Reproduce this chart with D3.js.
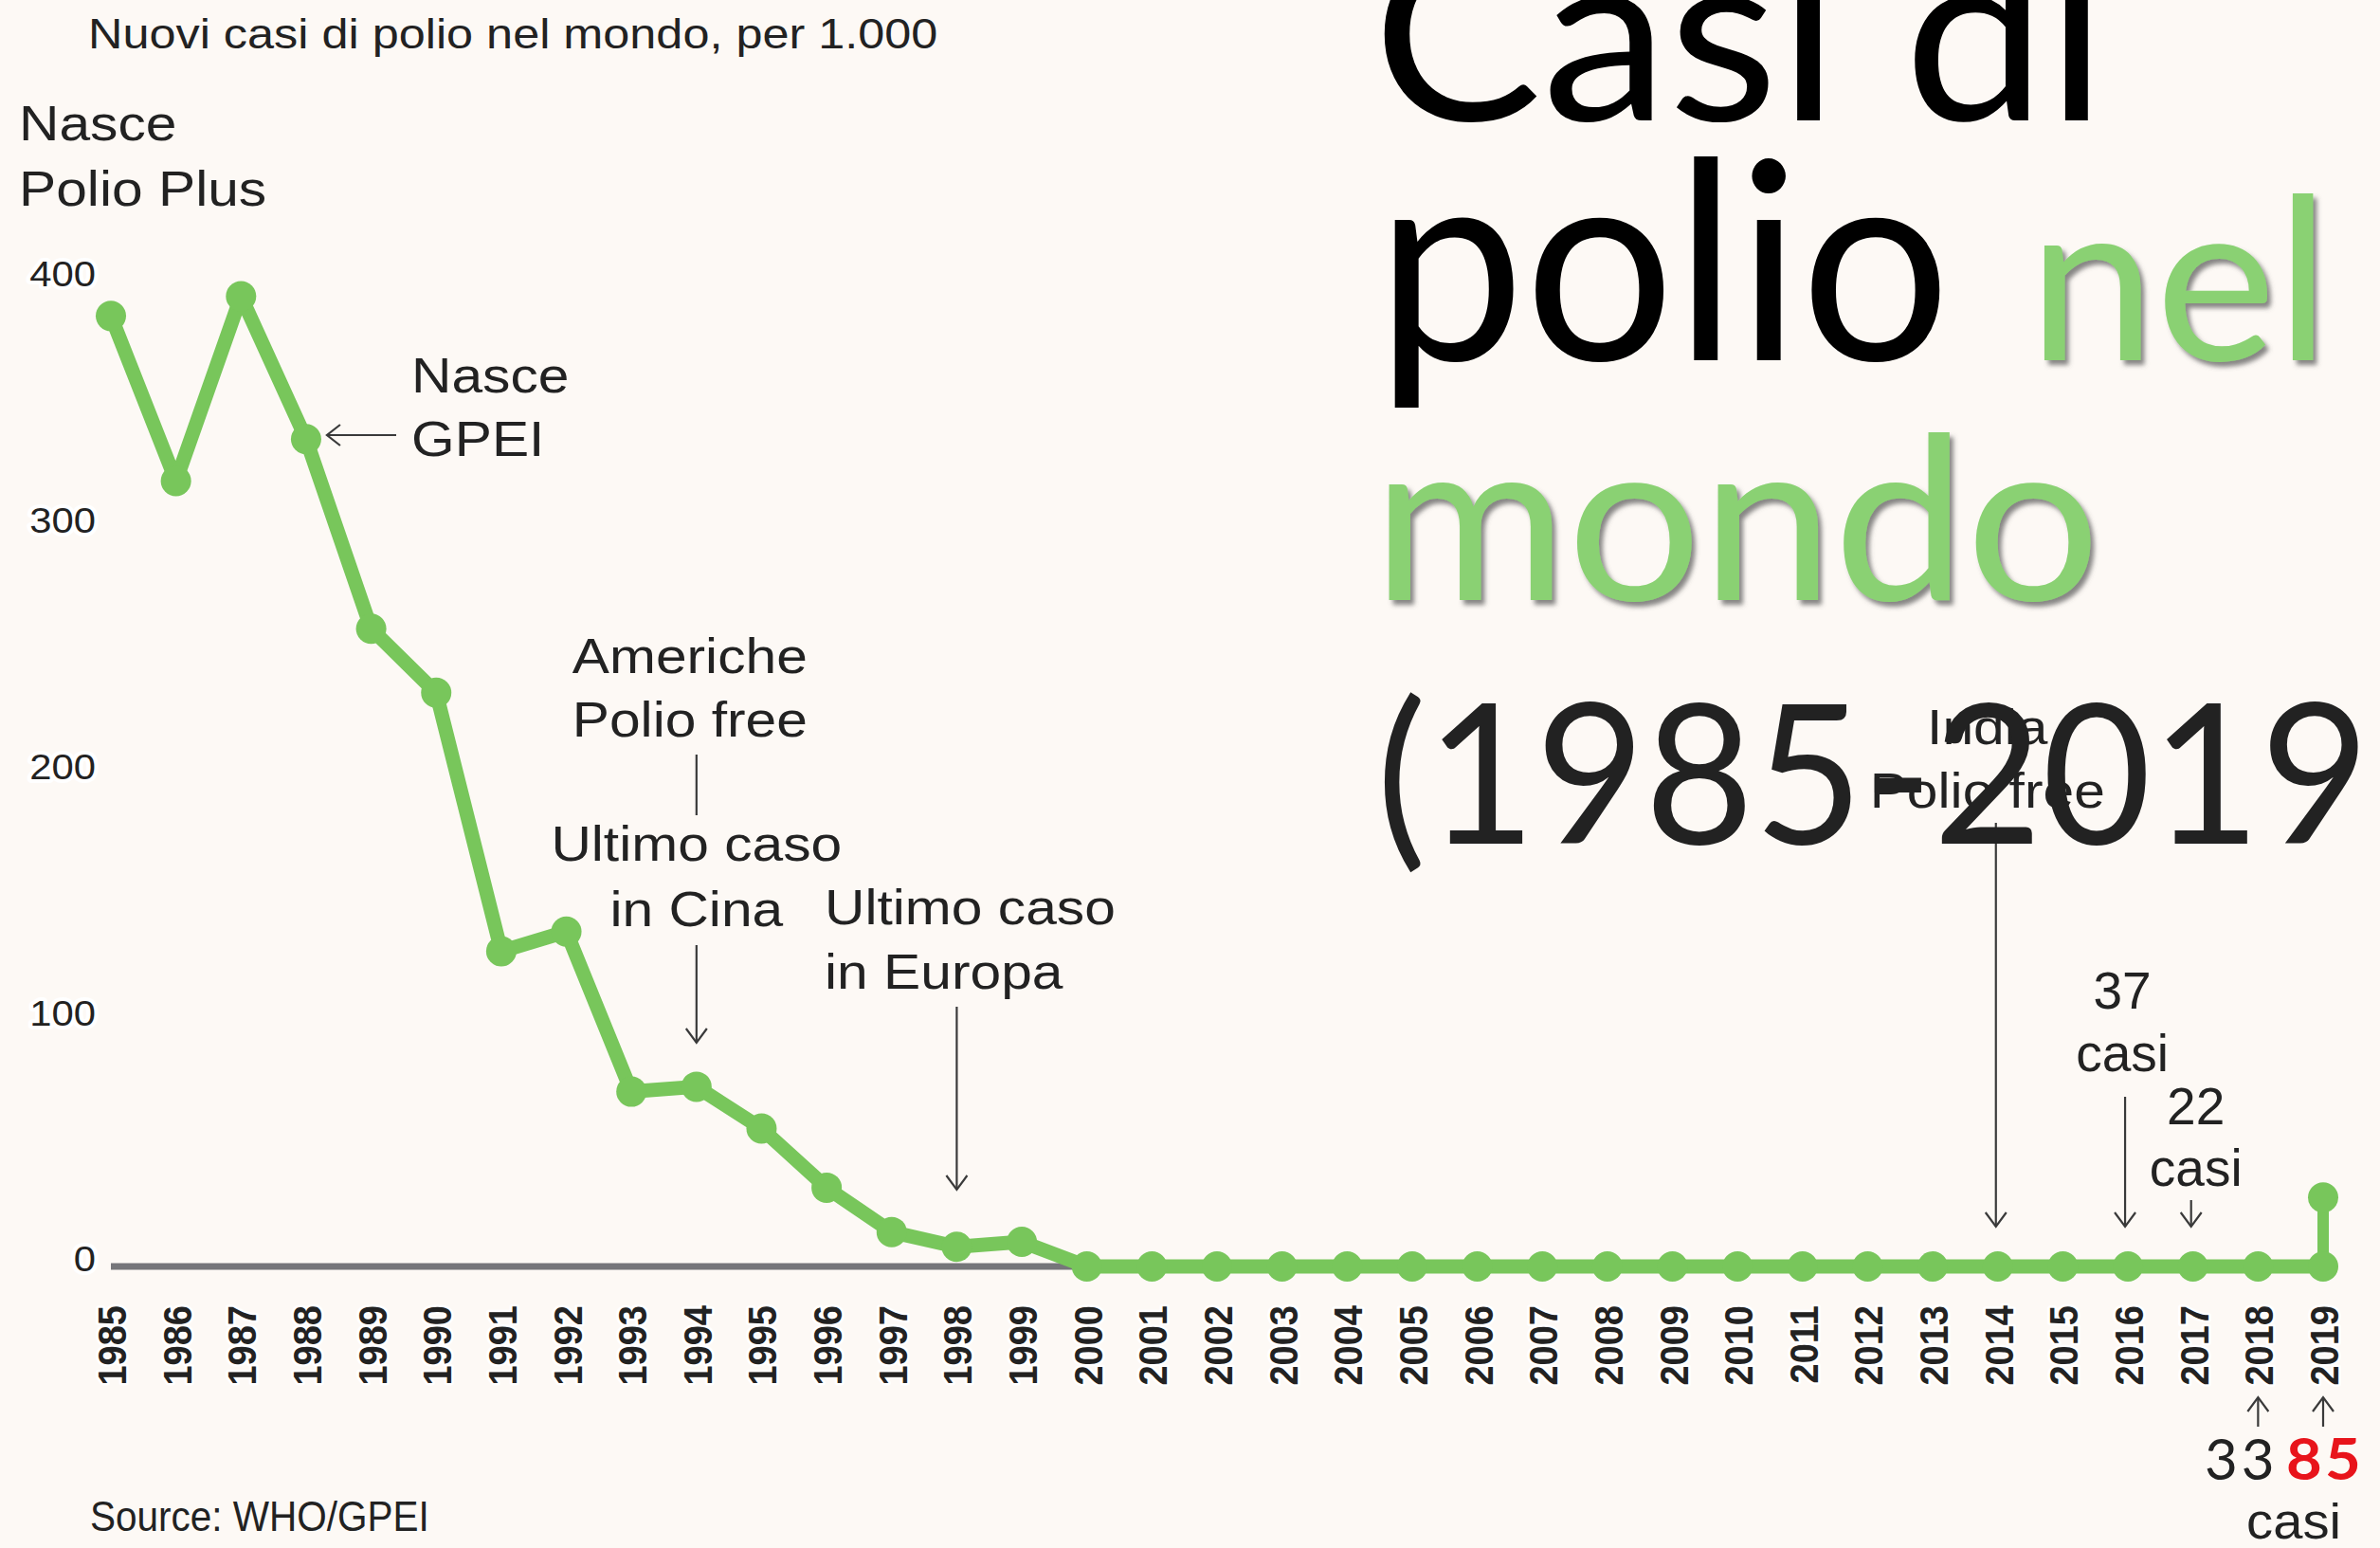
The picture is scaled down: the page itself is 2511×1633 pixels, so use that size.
<!DOCTYPE html>
<html>
<head>
<meta charset="utf-8">
<script src="https://cdn.jsdelivr.net/npm/d3@7/dist/d3.min.js"></script>
<style>
  html, body { margin: 0; padding: 0; background: #fdf9f5; }
  svg { display: block; }
</style>
</head>
<body>
<div id="chart"></div>
<script>
// data (thousands of new cases per year)
var years = [1985, 1986, 1987, 1988, 1989, 1990, 1991, 1992, 1993, 1994,
             1995, 1996, 1997, 1998, 1999, 2000, 2001, 2002, 2003, 2004,
             2005, 2006, 2007, 2008, 2009, 2010, 2011, 2012, 2013, 2014,
             2015, 2016, 2017, 2018, 2019];
var cases = [386, 319, 394, 336, 259, 233, 128, 136, 71, 73,
             56, 32, 14, 8, 10, 0, 0, 0, 0, 0,
             0, 0, 0, 0, 0, 0, 0, 0, 0, 0,
             0, 0, 0, 0, 0];
// the 2019 jump drawn as an extra vertical step
var spikeYears = [2019, 2019];
var spikeCases = [0, 28];
var yTicks = [0, 100, 200, 300, 400];

var subtitle = "Nuovi casi di polio nel mondo, per 1.000";
var source = "Source: WHO/GPEI";
var notePolioPlus = ["Nasce", "Polio Plus"];
var noteGpei = ["Nasce", "GPEI"];
var noteAmeriche = ["Americhe", "Polio free"];
var noteCina = ["Ultimo caso", "in Cina"];
var noteEuropa = ["Ultimo caso", "in Europa"];
var noteIndia = ["India", "Polio free"];
var note2016 = ["37", "casi"];
var note2017 = ["22", "casi"];
var note2018 = "33";
var note2019 = "85";

var svgWidth = 2511;
var svgHeight = 1633;
var green = "#78c65b";
var ink = "#222";
var arrowInk = "#3a3a3a";
var sx = 1.13; // the chart picture is a little stretched sideways

var svg = d3.select("#chart")
  .append("svg")
  .attr("width", svgWidth)
  .attr("height", svgHeight)
  .attr("viewBox", `0 0 ${svgWidth} ${svgHeight}`);

svg.append("rect")
  .attr("width", svgWidth)
  .attr("height", svgHeight)
  .attr("fill", "#fdf9f5");

var defs = svg.append("defs");
defs.append("filter")
  .attr("id", "shadow")
  .attr("x", "-10%").attr("y", "-10%")
  .attr("width", "130%").attr("height", "130%")
  .append("feDropShadow")
  .attr("dx", 4).attr("dy", 5)
  .attr("stdDeviation", 2.5)
  .attr("flood-color", "#555")
  .attr("flood-opacity", 0.7);

// scales
var xScale = d3.scaleLinear().domain([1985, 2019]).range([117, 2451]);
var yScale = d3.scaleLinear().domain([0, 400]).range([1336, 297]);

var chart = svg.append("g");

// grey base line
chart.append("line")
  .attr("x1", xScale(1985))
  .attr("x2", xScale(2019))
  .attr("y1", yScale(0))
  .attr("y2", yScale(0))
  .attr("stroke", "#76767a")
  .attr("stroke-width", 7);

// green series
var lineGen = d3.line()
  .x(function(d) { return xScale(d[0]); })
  .y(function(d) { return yScale(d[1]); });

var points = years.map(function(yr, i) { return [yr, cases[i]]; });
var spike = spikeYears.map(function(yr, i) { return [yr, spikeCases[i]]; });

chart.append("path")
  .attr("d", lineGen(points))
  .attr("fill", "none")
  .attr("stroke", green)
  .attr("stroke-width", 15)
  .attr("stroke-linejoin", "round")
  .attr("stroke-linecap", "round");

chart.append("path")
  .attr("d", lineGen(spike))
  .attr("fill", "none")
  .attr("stroke", green)
  .attr("stroke-width", 12)
  .attr("stroke-linecap", "round");

chart.selectAll("circle.pt")
  .data(points.concat(spike.slice(1)))
  .enter()
  .append("circle")
  .attr("class", "pt")
  .attr("cx", function(d) { return xScale(d[0]); })
  .attr("cy", function(d) { return yScale(d[1]); })
  .attr("r", 16)
  .attr("fill", green);

// y axis labels
var leftAxis = d3.axisLeft(yScale).tickValues(yTicks).tickSize(0).tickPadding(0);
var yAxisG = chart.append("g")
  .attr("transform", "translate(101,-7)")
  .call(leftAxis);
yAxisG.select(".domain").remove();
yAxisG.selectAll("text")
  .attr("x", 0)
  .attr("transform", `scale(${sx},1)`)
  .attr("font-family", "'Liberation Sans', Arial, sans-serif")
  .attr("font-size", 37)
  .attr("fill", ink)
  .attr("stroke", "#fff")
  .attr("stroke-width", 8)
  .attr("stroke-linejoin", "round")
  .style("paint-order", "stroke");

// year labels
var bottomAxis = d3.axisBottom(xScale).tickValues(years).tickFormat(d3.format("d")).tickSize(0);
var xAxisG = chart.append("g")
  .attr("transform", "translate(0,1377)")
  .call(bottomAxis);
xAxisG.select(".domain").remove();
xAxisG.selectAll("text")
  .attr("x", 0)
  .attr("y", 0)
  .attr("dy", "0.36em")
  .attr("text-anchor", "end")
  .attr("transform", `scale(${sx},1) rotate(-90)`)
  .attr("font-family", "'Liberation Sans', Arial, sans-serif")
  .attr("font-weight", "bold")
  .attr("font-size", 38)
  .attr("fill", ink)
  .attr("stroke", "#fff")
  .attr("stroke-width", 5)
  .attr("stroke-linejoin", "round")
  .style("paint-order", "stroke");

// text helper
function label(lines, x, y, opts) {
  opts = opts || {};
  var size = opts.size || 52;
  var step = opts.step || 67;
  var t = chart.append("text")
    .attr("transform", `translate(${x},${y}) scale(${opts.sx || sx},1)`)
    .attr("text-anchor", opts.anchor || "start")
    .attr("font-family", opts.family || "'Liberation Sans', Arial, sans-serif")
    .attr("font-size", size)
    .attr("font-weight", opts.weight || "normal")
    .attr("fill", opts.fill || ink);
  lines.forEach(function(s, i) {
    t.append("tspan").attr("x", 0).attr("y", i * step).text(s);
  });
  return t;
}

function arrowV(x, y1, y2, head) {
  chart.append("line")
    .attr("x1", x).attr("x2", x)
    .attr("y1", y1).attr("y2", y2)
    .attr("stroke", arrowInk).attr("stroke-width", 2.2);
  if (head) {
    var dir = y2 > y1 ? -1 : 1;
    chart.append("path")
      .attr("d", `M${x - 11},${y2 + dir * 15} L${x},${y2} L${x + 11},${y2 + dir * 15}`)
      .attr("fill", "none")
      .attr("stroke", arrowInk).attr("stroke-width", 2.2);
  }
}

// texts at the top left
label([subtitle], 93, 51, { size: 45, sx: 1.12 });
label(notePolioPlus, 20, 148, { size: 52, step: 69 });

// GPEI
label(noteGpei, 434, 414, { size: 52 });
chart.append("line")
  .attr("x1", 418).attr("x2", xScale(1988) + 22)
  .attr("y1", 459).attr("y2", 459)
  .attr("stroke", arrowInk).attr("stroke-width", 2.2);
chart.append("path")
  .attr("d", `M${xScale(1988) + 36},${448} L${xScale(1988) + 22},459 L${xScale(1988) + 36},${470}`)
  .attr("fill", "none").attr("stroke", arrowInk).attr("stroke-width", 2.2);

// Americhe / Cina
label(noteAmeriche, xScale(1994) - 7, 710, { anchor: "middle" });
arrowV(xScale(1994), 796, 860, false);
label(noteCina.slice(0, 1), xScale(1994), 908, { anchor: "middle" });
label(noteCina.slice(1), xScale(1994), 977, { anchor: "middle" });
arrowV(xScale(1994), 997, 1100, true);

// Europa
label(noteEuropa, 870, 975, { step: 68 });
arrowV(xScale(1998), 1062, 1255, true);

// India
label(noteIndia, xScale(2014) - 11, 785, { anchor: "middle" });
arrowV(xScale(2014) - 2, 868, 1294, true);

// 2016 / 2017
label(note2016, xScale(2016) - 6, 1064, { anchor: "middle", size: 55, sx: 1, step: 66 });
arrowV(xScale(2016) - 3, 1157, 1294, true);
label(note2017, xScale(2017) + 3, 1186, { anchor: "middle", size: 55, sx: 1, step: 65 });
arrowV(xScale(2017) - 2, 1266, 1294, true);

// 2018 / 2019 below the axis
arrowV(xScale(2018), 1505, 1474, true);
arrowV(xScale(2019), 1505, 1474, true);
label([note2018], 2326, 1561, { size: 60, sx: 1, family: "Lato, sans-serif", fill: "#222" })
  .attr("letter-spacing", 4);
label([note2019], 2412, 1561, { size: 62, sx: 1.05, family: "Lato, sans-serif", weight: "bold", fill: "#e8141b" })
  .attr("letter-spacing", 3);
label(["casi"], 2420, 1623, { anchor: "middle", size: 52, sx: 1.08 });

// source
label([source], 95, 1615, { size: 45, sx: 0.9 });

// big title on the right, drawn on top of the chart
var title = svg.append("g").attr("font-family", "Lato, 'Open Sans', sans-serif");
function titleWord(s, x, y, size, len, fill, shadow) {
  var t = title.append("text")
    .attr("x", x).attr("y", y)
    .attr("font-size", size)
    .attr("fill", fill)
    .attr("textLength", len)
    .attr("lengthAdjust", "spacingAndGlyphs")
    .text(s);
  if (shadow) t.attr("filter", "url(#shadow)");
}
titleWord("Casi di", 1448, 127, 255, 775, "#000", false);
titleWord("polio", 1452, 380, 292, 606, "#000", false);
titleWord("nel", 2140, 380, 238, 318, "#8ad173", true);
titleWord("mondo", 1448, 633, 240, 768, "#8ad173", true);
titleWord("(1985-2019", 1452, 890, 206, 1048, "#222", false);
</script>
</body>
</html>
